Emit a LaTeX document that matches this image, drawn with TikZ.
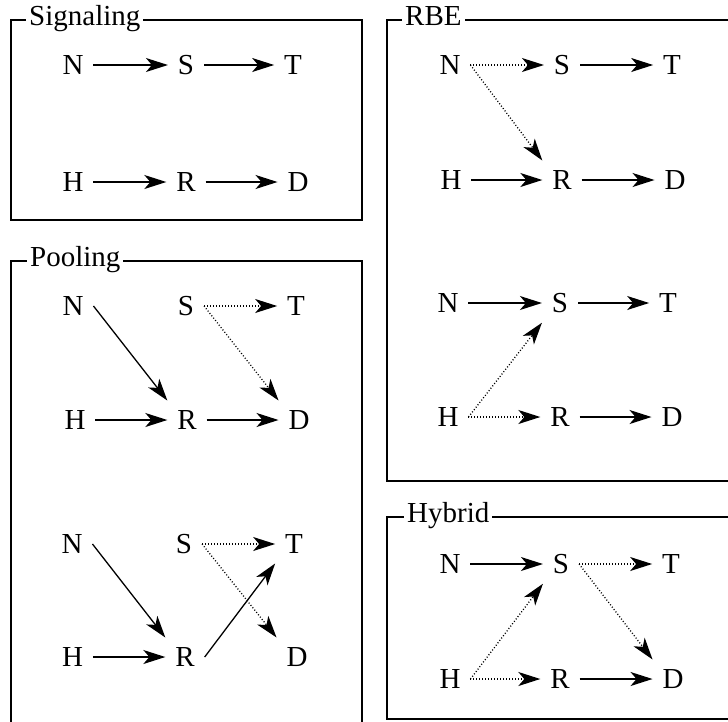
\documentclass[tikz,border=0pt]{standalone}
\usepackage{fontspec}
\setmainfont{Liberation Serif}
\usetikzlibrary{arrows.meta}
\tikzset{
  panel/.style={draw, line width=1.8pt},
  lbl/.style={fill=white, inner sep=3pt, anchor=base west},
  vx/.style={inner sep=10pt, outer sep=0pt},
  sol/.style={-{Stealth[length=22pt,width=14pt,inset=6pt]}, line width=1.3pt},
  dotl/.style={sol, dash pattern=on 1pt off 2pt}
}
\begin{document}
\begin{tikzpicture}[x=1pt,y=-1pt,font=\fontsize{29}{34}\selectfont]
\useasboundingbox (0,0) rectangle (728,721);
\clip (0,0) rectangle (728,721);
% panels
\draw[panel] (11,20) rectangle (362,220);
\node[lbl] (lsig) at (26,25) {Signaling};
\draw[panel] (11,261) rectangle (362,740);
\node[lbl] (lpool) at (27,266) {Pooling};
\draw[panel] (387,20) rectangle (745,481);
\node[lbl] (lrbe) at (402,25) {RBE};
\draw[panel] (387,517) rectangle (745,719);
\node[lbl] (lhyb) at (404,522) {Hybrid};
% Signaling
\node[vx] (aN) at (73,65) {N};
\node[vx] (aS) at (186,65) {S};
\node[vx] (aT) at (293,65) {T};
\node[vx] (aH) at (73,182) {H};
\node[vx] (aR) at (186,182) {R};
\node[vx] (aD) at (298,182) {D};
\draw[sol] (aN) -- (aS);
\draw[sol] (aS) -- (aT);
\draw[sol] (aH) -- (aR);
\draw[sol] (aR) -- (aD);
% RBE top
\node[vx] (bN) at (450,65) {N};
\node[vx] (bS) at (562,65) {S};
\node[vx] (bT) at (672,65) {T};
\node[vx] (bH) at (451,180) {H};
\node[vx] (bR) at (562,180) {R};
\node[vx] (bD) at (675,180) {D};
\draw[dotl] (bN) -- (bS);
\draw[sol] (bS) -- (bT);
\draw[dotl] (bN.east) -- (bR.north west);
\draw[sol] (bH) -- (bR);
\draw[sol] (bR) -- (bD);
% RBE bottom
\node[vx] (cN) at (448,303) {N};
\node[vx] (cS) at (560,303) {S};
\node[vx] (cT) at (668,303) {T};
\node[vx] (cH) at (448,417) {H};
\node[vx] (cR) at (560,417) {R};
\node[vx] (cD) at (672,417) {D};
\draw[sol] (cN) -- (cS);
\draw[sol] (cS) -- (cT);
\draw[dotl] (cH.east) -- (cS.south west);
\draw[dotl] (cH) -- (cR);
\draw[sol] (cR) -- (cD);
% Pooling top
\node[vx] (dN) at (73,306) {N};
\node[vx] (dS) at (186,306) {S};
\node[vx] (dT) at (296,306) {T};
\node[vx] (dH) at (75,420) {H};
\node[vx] (dR) at (187,420) {R};
\node[vx] (dD) at (299,420) {D};
\draw[sol] (dN.east) -- (dR.north west);
\draw[dotl] (dS) -- (dT);
\draw[dotl] (dS.east) -- (dD.north west);
\draw[sol] (dH) -- (dR);
\draw[sol] (dR) -- (dD);
% Pooling bottom
\node[vx] (eN) at (72,544) {N};
\node[vx] (eS) at (184,544) {S};
\node[vx] (eT) at (294,544) {T};
\node[vx] (eH) at (72.5,657) {H};
\node[vx] (eR) at (185,657) {R};
\node[vx] (eD) at (297,657) {D};
\draw[sol] (eN.east) -- (eR.north west);
\draw[dotl] (eS) -- (eT);
\draw[dotl] (eS.east) -- (eD.north west);
\draw[sol] (eH) -- (eR);
\draw[sol] (eR.east) -- (eT.south west);
% Hybrid
\node[vx] (fN) at (450,564) {N};
\node[vx] (fS) at (561,564) {S};
\node[vx] (fT) at (671,564) {T};
\node[vx] (fH) at (450,679) {H};
\node[vx] (fR) at (560,679) {R};
\node[vx] (fD) at (673,679) {D};
\draw[sol] (fN) -- (fS);
\draw[dotl] (fS) -- (fT);
\draw[dotl] (fS.east) -- (fD.north west);
\draw[dotl] (fH.east) -- (fS.south west);
\draw[dotl] (fH) -- (fR);
\draw[sol] (fR) -- (fD);
\end{tikzpicture}
\end{document}
